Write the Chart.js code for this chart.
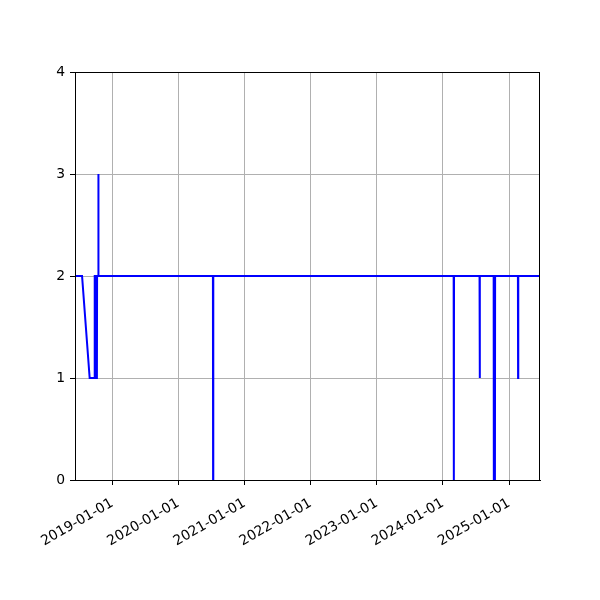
<!DOCTYPE html>
<html>
<head>
<meta charset="utf-8">
<script src="https://cdn.jsdelivr.net/npm/chart.js@4"></script>
<style>
  html, body { margin: 0; padding: 0; background: #fff; }
  #wrap { width: 600px; height: 600px; }
</style>
</head>
<body>
<div id="wrap"><canvas id="chart" width="600" height="600"></canvas></div>
<script>
// Daily series, only the points where the value changes
const dates = [
    '2018-06-09', '2018-07-18', '2018-08-29', '2018-09-25', '2018-09-26',
    '2018-09-30', '2018-10-01', '2018-10-08', '2018-10-09', '2018-10-15',
    '2018-10-16', '2018-10-17', '2020-07-10', '2020-07-11', '2020-07-12',
    '2024-03-01', '2024-03-02', '2024-03-03', '2024-07-22', '2024-07-23',
    '2024-07-24', '2024-10-08', '2024-10-09', '2024-10-15', '2024-10-16',
    '2025-02-19', '2025-02-20', '2025-02-21', '2025-06-21'
];
const values = [
    2, 2, 1, 1, 2,
    2, 1, 1, 2, 2,
    3, 2, 2, 0, 2,
    2, 0, 2, 2, 1,
    2, 2, 0, 0, 2,
    2, 1, 2, 2
];
const xStart = '2018-06-09';
const xEnd = '2025-06-21';
const tickYears = [2019, 2020, 2021, 2022, 2023, 2024, 2025];
const yTicks = [0, 1, 2, 3, 4];

const FONT = { family: 'DejaVu Sans', size: 13.9 };

// Cadre complet autour de la zone de tracé (comme matplotlib)
const framePlugin = {
    id: 'frame',
    afterDatasetsDraw(chart) {
        const { ctx, chartArea: a } = chart;
        ctx.save();
        ctx.strokeStyle = '#000';
        ctx.lineWidth = 1;
        ctx.strokeRect(a.left + 0.5, a.top + 0.5, a.right - a.left - 1, a.bottom - a.top);
        ctx.restore();
    }
};

const points = dates.map((d, i) => ({ x: Date.parse(d), y: values[i] }));

new Chart(document.getElementById('chart').getContext('2d'), {
    type: 'line',
    data: {
        datasets: [{
            data: points,
            borderColor: '#0000ff',
            borderWidth: 2,
            pointRadius: 0,
            tension: 0,
            fill: false
        }]
    },
    options: {
        responsive: false,
        animation: false,
        layout: { padding: { top: 72, right: 60, left: 0, bottom: 0 } },
        plugins: {
            legend: { display: false },
            tooltip: { enabled: false }
        },
        scales: {
            x: {
                type: 'linear',
                min: Date.parse(xStart),
                max: Date.parse(xEnd),
                afterBuildTicks: (scale) => {
                    scale.ticks = tickYears.map(y => ({ value: Date.UTC(y, 0, 1) }));
                },
                afterFit: (scale) => { scale.height = 120; },
                grid: { color: '#b0b0b0', lineWidth: 1, tickLength: 5, tickColor: '#000' },
                border: { color: '#000', width: 1 },
                ticks: {
                    autoSkip: false,
                    minRotation: 30,
                    maxRotation: 30,
                    padding: 10,
                    color: '#000',
                    font: FONT,
                    callback: (v) => new Date(v).toISOString().slice(0, 10)
                }
            },
            y: {
                min: 0,
                max: 4,
                afterBuildTicks: (scale) => {
                    scale.ticks = yTicks.map(v => ({ value: v }));
                },
                afterFit: (scale) => { scale.width = 75; },
                grid: { color: '#b0b0b0', lineWidth: 1, tickLength: 5, tickColor: '#000' },
                border: { color: '#000', width: 1 },
                ticks: {
                    padding: 5,
                    color: '#000',
                    font: FONT
                }
            }
        }
    },
    plugins: [framePlugin]
});
</script>
</body>
</html>
